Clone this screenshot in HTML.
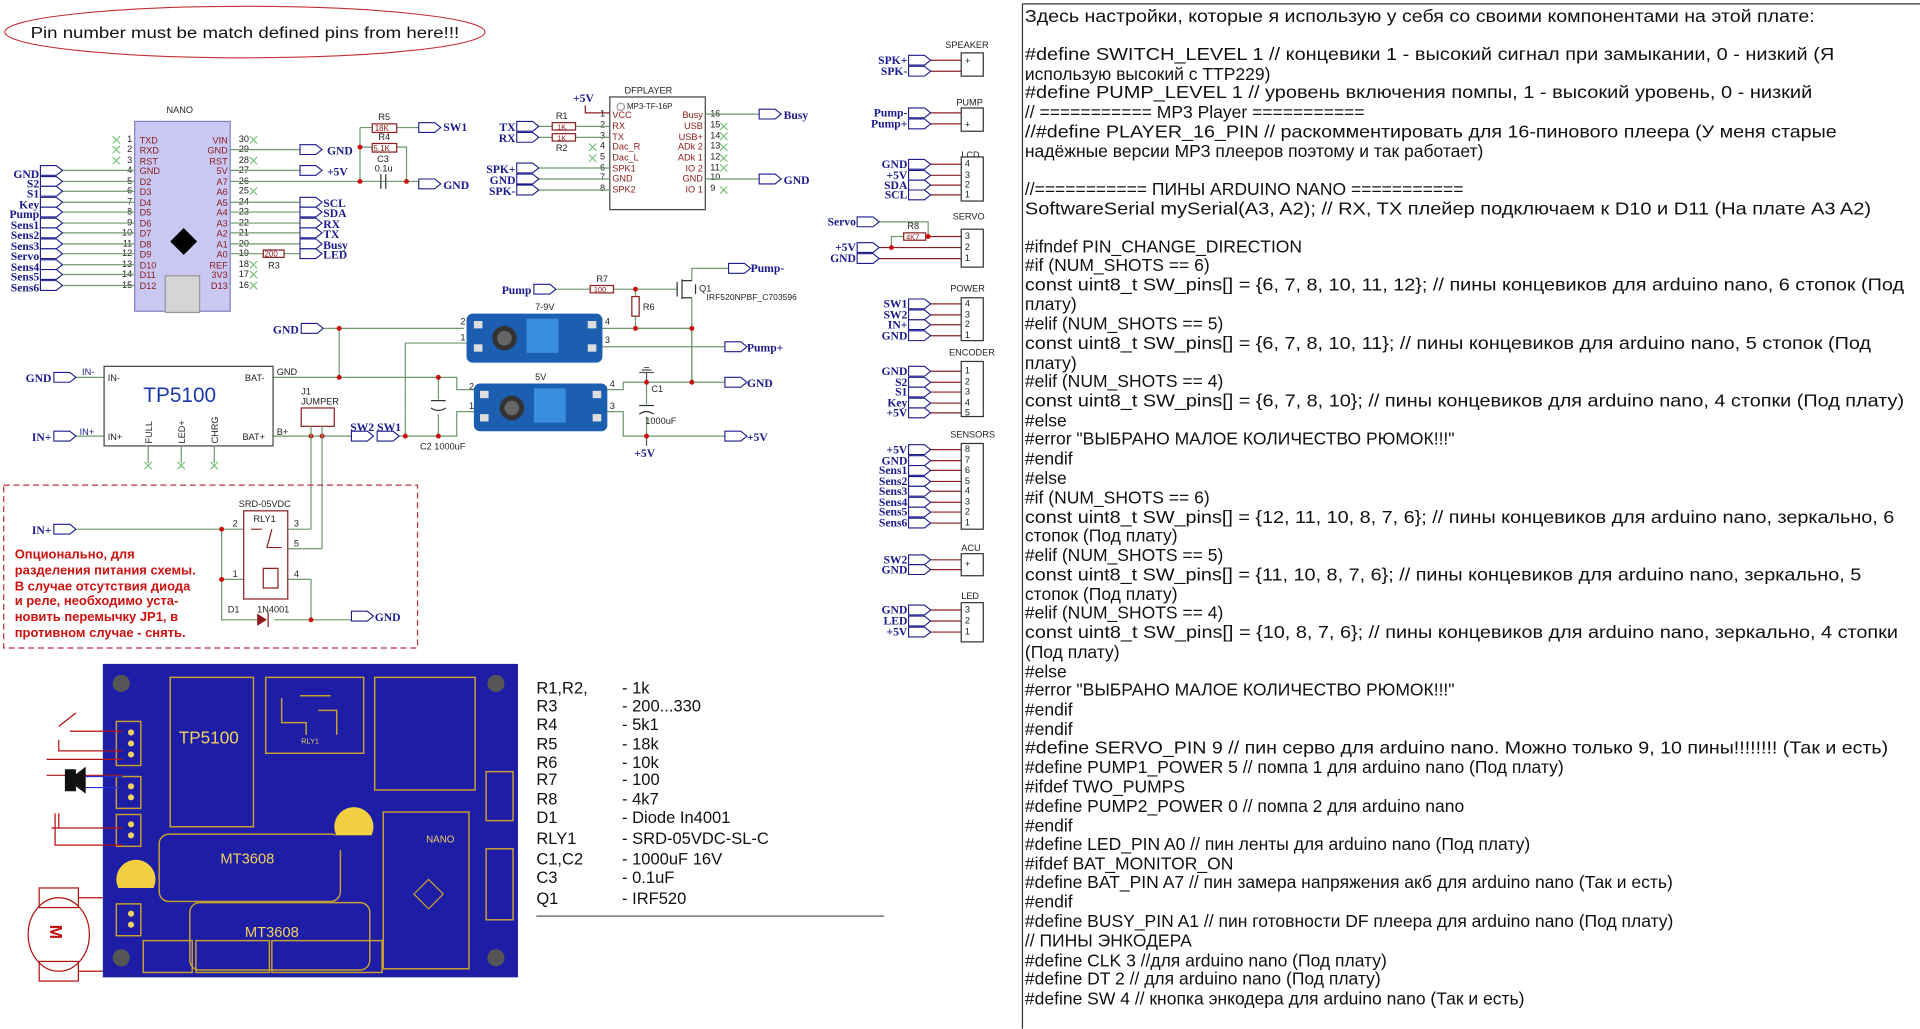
<!DOCTYPE html>
<html><head><meta charset="utf-8"><style>
html,body{margin:0;padding:0;background:#fff;width:1920px;height:1029px;overflow:hidden}
svg{display:block}
.t{font-family:"Liberation Sans",Arial,sans-serif;font-size:14.3px;fill:#111;white-space:pre}
.lb{font-family:"Liberation Serif",serif;font-size:9.5px;font-weight:bold;fill:#1a1a8a}
.pn{font-family:"Liberation Sans",sans-serif;font-size:7.5px;fill:#8b1a1a}
.sm{font-family:"Liberation Sans",sans-serif;font-size:7.5px;fill:#222}
.w{stroke:#6f9a6f;stroke-width:1;fill:none}
.r{stroke:#8b2020;stroke-width:1;fill:none}
.port{fill:#fff;stroke:#1a1a8a;stroke-width:0.9}
.dot{fill:#c81010}
.red{font-family:"Liberation Sans",sans-serif;font-size:10.6px;font-weight:bold;fill:#cc1111}
.bom{font-family:"Liberation Sans",sans-serif;font-size:13.5px;fill:#111}
</style></head><body>
<svg width="1920" height="1029" viewBox="0 0 1568 840" xmlns="http://www.w3.org/2000/svg" xml:space="preserve">
<defs>
<polygon id="p" class="port" points="0,-4 13,-4 18,0 13,4 0,4"/>
<g id="x"><path d="M-3,-3 L3,3 M-3,3 L3,-3" stroke="#6fbf6f" stroke-width="0.9"/></g>
</defs>

<line x1="835" y1="3" x2="1568" y2="3" stroke="#333" stroke-width="1"/>
<line x1="835" y1="3" x2="835" y2="840" stroke="#333" stroke-width="1"/>
<g class="t">
<text x="837" y="18" textLength="645" lengthAdjust="spacingAndGlyphs">Здесь настройки, которые я использую у себя со своими компонентами на этой плате:</text>
<text x="837" y="49" textLength="661" lengthAdjust="spacingAndGlyphs">#define SWITCH_LEVEL 1    // концевики 1 - высокий сигнал при замыкании, 0 - низкий (Я</text>
<text x="837" y="65">использую высокий с TTP229)</text>
<text x="837" y="80" textLength="643" lengthAdjust="spacingAndGlyphs">#define PUMP_LEVEL 1    // уровень включения помпы, 1 - высокий уровень, 0 - низкий</text>
<text x="837" y="96">// =========== MP3 Player ===========</text>
<text x="837" y="112" textLength="663" lengthAdjust="spacingAndGlyphs">//#define PLAYER_16_PIN  // раскомментировать для 16-пинового плеера (У меня старые</text>
<text x="837" y="128">надёжные версии MP3 плееров поэтому и так работает)</text>
<text x="837" y="159">//=========== ПИНЫ ARDUINO NANO ===========</text>
<text x="837" y="175" textLength="691" lengthAdjust="spacingAndGlyphs">SoftwareSerial mySerial(A3, A2); // RX, TX   плейер подключаем к D10 и  D11 (На плате A3 A2)</text>
<text x="837" y="206">#ifndef PIN_CHANGE_DIRECTION</text>
<text x="837" y="221">#if (NUM_SHOTS == 6)</text>
<text x="837" y="237" textLength="718" lengthAdjust="spacingAndGlyphs">const uint8_t SW_pins[] = {6, 7, 8, 10, 11, 12};  //  пины концевиков для arduino nano, 6 стопок (Под</text>
<text x="837" y="253">плату)</text>
<text x="837" y="269">#elif (NUM_SHOTS == 5)</text>
<text x="837" y="285" textLength="691" lengthAdjust="spacingAndGlyphs">const uint8_t SW_pins[] = {6, 7, 8, 10, 11};  //  пины концевиков для arduino nano, 5 стопок (Под</text>
<text x="837" y="301">плату)</text>
<text x="837" y="316">#elif (NUM_SHOTS == 4)</text>
<text x="837" y="332" textLength="718" lengthAdjust="spacingAndGlyphs">const uint8_t SW_pins[] = {6, 7, 8, 10};  //  пины концевиков для arduino nano, 4 стопки (Под плату)</text>
<text x="837" y="348">#else</text>
<text x="837" y="363">#error "ВЫБРАНО МАЛОЕ КОЛИЧЕСТВО РЮМОК!!!"</text>
<text x="837" y="379">#endif</text>
<text x="837" y="395">#else</text>
<text x="837" y="411">#if (NUM_SHOTS == 6)</text>
<text x="837" y="427" textLength="710" lengthAdjust="spacingAndGlyphs">const uint8_t SW_pins[] = {12, 11, 10, 8, 7, 6};  //  пины концевиков для arduino nano, зеркально, 6</text>
<text x="837" y="442">стопок (Под плату)</text>
<text x="837" y="458">#elif (NUM_SHOTS == 5)</text>
<text x="837" y="474" textLength="683" lengthAdjust="spacingAndGlyphs">const uint8_t SW_pins[] = {11, 10, 8, 7, 6};  //  пины концевиков для arduino nano, зеркально, 5</text>
<text x="837" y="490">стопок (Под плату)</text>
<text x="837" y="505">#elif (NUM_SHOTS == 4)</text>
<text x="837" y="521" textLength="713" lengthAdjust="spacingAndGlyphs">const uint8_t SW_pins[] = {10, 8, 7, 6};  //  пины концевиков для arduino nano, зеркально, 4 стопки</text>
<text x="837" y="537">(Под плату)</text>
<text x="837" y="553">#else</text>
<text x="837" y="568">#error "ВЫБРАНО МАЛОЕ КОЛИЧЕСТВО РЮМОК!!!"</text>
<text x="837" y="584">#endif</text>
<text x="837" y="600">#endif</text>
<text x="837" y="615" textLength="705" lengthAdjust="spacingAndGlyphs">#define SERVO_PIN   9 // пин серво для arduino nano. Можно только 9, 10 пины!!!!!!!! (Так и есть)</text>
<text x="837" y="631">#define PUMP1_POWER 5 // помпа 1 для arduino nano (Под плату)</text>
<text x="837" y="647">#ifdef TWO_PUMPS</text>
<text x="837" y="663">#define PUMP2_POWER 0 // помпа 2 для arduino nano</text>
<text x="837" y="679">#endif</text>
<text x="837" y="694">#define LED_PIN A0  // пин ленты для arduino nano (Под плату)</text>
<text x="837" y="710">#ifdef BAT_MONITOR_ON</text>
<text x="837" y="725">#define BAT_PIN A7 // пин замера напряжения акб для arduino nano (Так и есть)</text>
<text x="837" y="741">#endif</text>
<text x="837" y="757">#define BUSY_PIN A1  // пин готовности DF плеера для arduino nano (Под плату)</text>
<text x="837" y="773">// ПИНЫ ЭНКОДЕРА</text>
<text x="837" y="789">#define CLK  3 //для arduino nano (Под плату)</text>
<text x="837" y="804">#define DT  2 // для arduino nano (Под плату)</text>
<text x="837" y="820">#define SW  4  // кнопка энкодера для arduino nano (Так и есть)</text>
</g>

<ellipse cx="200" cy="26" rx="196" ry="21" fill="none" stroke="#c03030" stroke-width="0.9"/>
<text x="25" y="31" class="t" style="font-size:13px" textLength="350" lengthAdjust="spacingAndGlyphs">Pin number must be match defined pins from here!!!</text>

<text x="136" y="92" class="sm">NANO</text>
<rect x="110" y="99" width="78" height="155" fill="#c8c8f2" stroke="#8080c0"/>
<polygon points="150,186 161,197 150,208 139,197" fill="#000"/>
<rect x="135" y="225" width="28" height="30" fill="#d4d4d4" stroke="#999"/>
<g class="pn">
<text x="114" y="117">TXD</text><text x="114" y="125">RXD</text><text x="114" y="134">RST</text><text x="114" y="142">GND</text><text x="114" y="151">D2</text><text x="114" y="159">D3</text><text x="114" y="168">D4</text><text x="114" y="176">D5</text><text x="114" y="185">D6</text><text x="114" y="193">D7</text><text x="114" y="202">D8</text><text x="114" y="210">D9</text><text x="114" y="219">D10</text><text x="114" y="227">D11</text><text x="114" y="236">D12</text>
</g>
<g class="pn" text-anchor="end">
<text x="186" y="117">VIN</text><text x="186" y="125">GND</text><text x="186" y="134">RST</text><text x="186" y="142">5V</text><text x="186" y="151">A7</text><text x="186" y="159">A6</text><text x="186" y="168">A5</text><text x="186" y="176">A4</text><text x="186" y="185">A3</text><text x="186" y="193">A2</text><text x="186" y="202">A1</text><text x="186" y="210">A0</text><text x="186" y="219">REF</text><text x="186" y="227">3V3</text><text x="186" y="236">D13</text>
</g>
<g class="sm" text-anchor="end">
<text x="108" y="116">1</text><text x="108" y="124">2</text><text x="108" y="133">3</text><text x="108" y="141">4</text><text x="108" y="150">5</text><text x="108" y="158">6</text><text x="108" y="167">7</text><text x="108" y="175">8</text><text x="108" y="184">9</text><text x="108" y="192">10</text><text x="108" y="201">11</text><text x="108" y="209">12</text><text x="108" y="218">13</text><text x="108" y="226">14</text><text x="108" y="235">15</text>
</g>
<g class="sm">
<text x="195" y="116">30</text><text x="195" y="124">29</text><text x="195" y="133">28</text><text x="195" y="141">27</text><text x="195" y="150">26</text><text x="195" y="158">25</text><text x="195" y="167">24</text><text x="195" y="175">23</text><text x="195" y="184">22</text><text x="195" y="192">21</text><text x="195" y="201">20</text><text x="195" y="209">19</text><text x="195" y="218">18</text><text x="195" y="226">17</text><text x="195" y="235">16</text>
</g>
<g><use href="#x" x="95" y="114"/><use href="#x" x="95" y="122"/><use href="#x" x="95" y="131"/><use href="#x" x="207" y="114"/><use href="#x" x="207" y="131"/><use href="#x" x="207" y="156"/><use href="#x" x="207" y="216"/><use href="#x" x="207" y="224"/><use href="#x" x="207" y="233"/></g>
<g class="w">
<path d="M50,139H110M50,148H110M50,156H110M50,165H110M50,173H110M50,182H110M50,190H110M50,199H110M50,207H110M50,216H110M50,224H110M50,233H110"/>
</g>
<g><use href="#p" x="33" y="139"/><use href="#p" x="33" y="148"/><use href="#p" x="33" y="156"/><use href="#p" x="33" y="165"/><use href="#p" x="33" y="173"/><use href="#p" x="33" y="182"/><use href="#p" x="33" y="190"/><use href="#p" x="33" y="199"/><use href="#p" x="33" y="207"/><use href="#p" x="33" y="216"/><use href="#p" x="33" y="224"/><use href="#p" x="33" y="233"/></g>
<g class="lb" text-anchor="end">
<text x="32" y="145">GND</text><text x="32" y="153">S2</text><text x="32" y="161">S1</text><text x="32" y="170">Key</text><text x="32" y="178">Pump</text><text x="32" y="187">Sens1</text><text x="32" y="195">Sens2</text><text x="32" y="204">Sens3</text><text x="32" y="212">Servo</text><text x="32" y="221">Sens4</text><text x="32" y="229">Sens5</text><text x="32" y="238">Sens6</text>
</g>
<g class="w"><path d="M188,122H245M188,139H245M188,148H332M188,165H245M188,173H245M188,182H245M188,190H245M188,199H245M188,207H215M232,207H245"/>
<path d="M294,104V148M294,104H304M324,104H342M294,120H304M324,120H332V148M311,148H294M316,148H342"/></g>
<rect x="215" y="204" width="17" height="6" fill="#fff" stroke="#8b2020"/><text x="216" y="209.5" class="pn" style="font-size:6.5px">200</text>
<text x="219" y="219" class="sm">R3</text>
<rect x="304" y="101" width="20" height="7" fill="#fff" stroke="#8b2020"/><text x="306" y="107" class="pn" style="font-size:6.5px">18K</text><text x="309" y="98" class="sm">R5</text>
<rect x="304" y="117" width="20" height="7" fill="#fff" stroke="#8b2020"/><text x="305" y="123" class="pn" style="font-size:6.5px">5.1K</text><text x="309" y="114" class="sm">R4</text>
<path d="M311,142V154M315,142V154" stroke="#555" stroke-width="1.2"/><text x="308" y="132" class="sm">C3</text><text x="306" y="140" class="sm">0.1u</text>
<circle cx="294" cy="120" r="2" class="dot"/><circle cx="294" cy="148" r="2" class="dot"/><circle cx="332" cy="148" r="2" class="dot"/>
<g><use href="#p" x="245" y="122"/><use href="#p" x="245" y="139"/><use href="#p" x="245" y="165"/><use href="#p" x="245" y="173"/><use href="#p" x="245" y="182"/><use href="#p" x="245" y="190"/><use href="#p" x="245" y="199"/><use href="#p" x="245" y="207"/><use href="#p" x="342" y="104"/><use href="#p" x="342" y="150"/></g>
<g class="lb"><text x="267" y="126">GND</text><text x="267" y="143">+5V</text><text x="264" y="169">SCL</text><text x="264" y="177">SDA</text><text x="264" y="186">RX</text><text x="264" y="194">TX</text><text x="264" y="203">Busy</text><text x="264" y="211">LED</text><text x="362" y="107">SW1</text><text x="362" y="154">GND</text></g>

<text x="510" y="76" class="sm">DFPLAYER</text>
<rect x="498" y="79" width="78" height="92" fill="#fff" stroke="#444"/>
<circle cx="507" cy="87" r="3" fill="none" stroke="#999"/><text x="512" y="89" class="sm" style="font-size:6.5px">MP3-TF-16P</text>
<text x="468" y="83" class="lb">+5V</text><path d="M478,86V92H498" class="r"/>
<g class="pn"><text x="500" y="96">VCC</text><text x="500" y="105">RX</text><text x="500" y="114">TX</text><text x="500" y="122">Dac_R</text><text x="500" y="131">Dac_L</text><text x="500" y="140">SPK1</text><text x="500" y="148">GND</text><text x="500" y="157">SPK2</text></g>
<g class="pn" text-anchor="end"><text x="574" y="96">Busy</text><text x="574" y="105">USB</text><text x="574" y="114">USB+</text><text x="574" y="122">ADk 2</text><text x="574" y="131">ADk 1</text><text x="574" y="140">IO 2</text><text x="574" y="148">GND</text><text x="574" y="157">IO 1</text></g>
<g class="sm"><text x="490" y="95">1</text><text x="490" y="104">2</text><text x="490" y="113">3</text><text x="490" y="121">4</text><text x="490" y="130">5</text><text x="490" y="139">6</text><text x="490" y="147">7</text><text x="490" y="156">8</text>
<text x="580" y="95">16</text><text x="580" y="104">15</text><text x="580" y="113">14</text><text x="580" y="121">13</text><text x="580" y="130">12</text><text x="580" y="139">11</text><text x="580" y="147">10</text><text x="580" y="156">9</text></g>
<g><use href="#x" x="484" y="120"/><use href="#x" x="484" y="129"/><use href="#x" x="591" y="103"/><use href="#x" x="591" y="111"/><use href="#x" x="591" y="120"/><use href="#x" x="591" y="129"/><use href="#x" x="591" y="137"/><use href="#x" x="591" y="155"/></g>
<g class="w"><path d="M440,103H451M470,103H498M440,112H451M470,112H498M440,137H498M440,146H498M440,155H498M576,93H620M576,146H620"/></g>
<rect x="451" y="100" width="19" height="6" fill="#fff" stroke="#8b2020"/><text x="455" y="105.5" class="pn" style="font-size:6px">1K</text>
<rect x="451" y="109" width="19" height="6" fill="#fff" stroke="#8b2020"/><text x="455" y="114.5" class="pn" style="font-size:6px">1K</text>
<text x="454" y="97" class="sm">R1</text><text x="454" y="123" class="sm">R2</text>
<g><use href="#p" x="422" y="103"/><use href="#p" x="422" y="112"/><use href="#p" x="422" y="137"/><use href="#p" x="422" y="146"/><use href="#p" x="422" y="155"/><use href="#p" x="620" y="93"/><use href="#p" x="620" y="146"/></g>
<g class="lb" text-anchor="end"><text x="421" y="107">TX</text><text x="421" y="116">RX</text><text x="421" y="141">SPK+</text><text x="421" y="150">GND</text><text x="421" y="159">SPK-</text></g>
<g class="lb"><text x="640" y="97">Busy</text><text x="640" y="150">GND</text></g>

<use href="#p" x="436" y="236"/><text x="434" y="240" class="lb" text-anchor="end">Pump</text>
<g class="w"><path d="M454,236H482M501,236H553M519,236V242M519,258V268M565,229V219H595M565,243V312M519,268H565"/></g>
<rect x="482" y="233" width="19" height="6" fill="#fff" stroke="#8b2020"/><text x="485" y="238.5" class="pn" style="font-size:6px">100</text><text x="487" y="230" class="sm">R7</text>
<rect x="516" y="242" width="6" height="16" fill="#fff" stroke="#8b2020"/><text x="525" y="253" class="sm">R6</text>
<circle cx="519" cy="236" r="2" class="dot"/>
<path d="M553,230V242M557,228V244M557,229H565M557,243H565M568,232V240" stroke="#333" fill="none"/>
<text x="571" y="238" class="sm">Q1</text><text x="577" y="245" class="sm" style="font-size:7px">IRF520NPBF_C703596</text>
<use href="#p" x="595" y="219"/><text x="613" y="222" class="lb">Pump-</text>

<g class="w"><path d="M262,268H379M277,268V308M62,308H85M223,308H358M358,308H373V318H387M62,356H85M223,356H254M254,356H287M325,356H373V336H387M331,356V280H381M492,268H565M492,283H592M496,318H509V312H592M496,336H509V356H592M528,312V330M528,340V356M565,268V312"/></g>
<g class="w"><path d="M358,308V326M358,338V356"/></g>
<path d="M352,327H364M352,333Q358,337 364,333" stroke="#333" fill="none"/>
<path d="M522,331H534M522,338Q528,334 534,338" stroke="#333" fill="none"/>
<path d="M528,312V304M522,304H534M524,302H532M526,300H530" stroke="#555" fill="none"/>
<path d="M528,356V364" stroke="#555"/>
<circle cx="277" cy="268" r="2" class="dot"/><circle cx="277" cy="308" r="2" class="dot"/><circle cx="358" cy="308" r="2" class="dot"/><circle cx="358" cy="356" r="2" class="dot"/><circle cx="331" cy="356" r="2" class="dot"/><circle cx="254" cy="356" r="2" class="dot"/><circle cx="263" cy="356" r="2" class="dot"/><circle cx="519" cy="268" r="2" class="dot"/><circle cx="565" cy="268" r="2" class="dot"/><circle cx="565" cy="312" r="2" class="dot"/><circle cx="528" cy="312" r="2" class="dot"/><circle cx="528" cy="356" r="2" class="dot"/>
<g>
<rect x="381" y="256" width="111" height="40" rx="5" fill="#1c5fb0"/>
<rect x="430" y="260" width="26" height="28" fill="#3a8ee0"/><circle cx="412" cy="276" r="10" fill="#333"/><circle cx="412" cy="276" r="6" fill="#666"/>
<rect x="387" y="262" width="7" height="6" fill="#ddd"/><rect x="387" y="281" width="7" height="6" fill="#ddd"/><rect x="480" y="262" width="7" height="6" fill="#ddd"/><rect x="480" y="281" width="7" height="6" fill="#ddd"/>
<rect x="387" y="313" width="109" height="39" rx="5" fill="#1c5fb0"/>
<rect x="436" y="317" width="26" height="28" fill="#3a8ee0"/><circle cx="418" cy="333" r="10" fill="#333"/><circle cx="418" cy="333" r="6" fill="#666"/>
<rect x="392" y="319" width="7" height="6" fill="#ddd"/><rect x="392" y="338" width="7" height="6" fill="#ddd"/><rect x="484" y="319" width="7" height="6" fill="#ddd"/><rect x="484" y="338" width="7" height="6" fill="#ddd"/>
</g>
<text x="437" y="253" class="sm">7-9V</text><text x="437" y="310" class="sm">5V</text>
<text x="376" y="265" class="sm">2</text><text x="376" y="278" class="sm">1</text><text x="494" y="265" class="sm">4</text><text x="494" y="280" class="sm">3</text>
<text x="383" y="318" class="sm">2</text><text x="383" y="334" class="sm">1</text><text x="498" y="316" class="sm">4</text><text x="498" y="334" class="sm">3</text>
<text x="343" y="367" class="sm">C2 1000uF</text><text x="532" y="320" class="sm">C1</text><text x="527" y="346" class="sm">1000uF</text><text x="518" y="373" class="lb">+5V</text>
<rect x="85" y="299" width="138" height="65" fill="#fff" stroke="#444"/>
<text x="117" y="328" font-family="Liberation Sans,sans-serif" font-size="17" fill="#1a3aa8">TP5100</text>
<g class="sm"><text x="88" y="311">IN-</text><text x="88" y="359">IN+</text><text x="200" y="311">BAT-</text><text x="198" y="359">BAT+</text><text x="67" y="306" fill="#1a1a8a">IN-</text><text x="65" y="355" fill="#1a1a8a">IN+</text><text x="226" y="306">GND</text><text x="226" y="355">B+</text></g>
<g class="sm" font-size="6.5"><text transform="translate(124,362) rotate(-90)">FULL</text><text transform="translate(151,362) rotate(-90)">LED+</text><text transform="translate(178,362) rotate(-90)">CHRG</text></g>
<path d="M121,364V378M148,364V378M175,364V378" class="w"/>
<use href="#x" x="121" y="380"/><use href="#x" x="148" y="380"/><use href="#x" x="175" y="380"/>
<use href="#p" x="44" y="308"/><use href="#p" x="44" y="356"/>
<text x="42" y="312" class="lb" text-anchor="end">GND</text><text x="42" y="360" class="lb" text-anchor="end">IN+</text>
<use href="#p" x="246" y="268"/><text x="244" y="272" class="lb" text-anchor="end">GND</text>
<use href="#p" x="592" y="283"/><text x="610" y="287" class="lb">Pump+</text>
<use href="#p" x="592" y="312"/><text x="610" y="316" class="lb">GND</text>
<use href="#p" x="592" y="356"/><text x="610" y="360" class="lb">+5V</text>
<text x="246" y="322" class="sm">J1</text><text x="246" y="330" class="sm">JUMPER</text>
<rect x="246" y="333" width="27" height="15" fill="#fff" stroke="#8b2020"/>
<path d="M254,348V432M263,348V448" class="w"/>
<use href="#p" x="287" y="356"/><use href="#p" x="308" y="356"/>
<text x="286" y="352" class="lb">SW2</text><text x="308" y="352" class="lb">SW1</text>
<rect x="3" y="396" width="338" height="133" fill="none" stroke="#c03040" stroke-dasharray="5,3"/>
<use href="#p" x="44" y="432"/><text x="42" y="436" class="lb" text-anchor="end">IN+</text>
<g class="w"><path d="M62,432H199M181,432V506H210M224,506H254M235,432H254M235,448H263M181,473H199M235,473H254V506H287"/></g>
<rect x="199" y="417" width="36" height="72" fill="#fff" stroke="#8b2020"/>
<path d="M205,432H214M222,432L218,447H230M215,464H227V480H215Z" stroke="#8b2020" fill="none"/>
<polygon points="210,501 210,511 218,506" fill="#8b1a1a"/><path d="M219,500V512" stroke="#8b1a1a"/>
<circle cx="181" cy="432" r="2" class="dot"/><circle cx="181" cy="473" r="2" class="dot"/><circle cx="254" cy="506" r="2" class="dot"/>
<text x="195" y="414" class="sm">SRD-05VDC</text><text x="207" y="426" class="sm">RLY1</text>
<g class="sm"><text x="190" y="430">2</text><text x="240" y="430">3</text><text x="240" y="446">5</text><text x="190" y="471">1</text><text x="240" y="471">4</text><text x="186" y="500">D1</text><text x="210" y="500">1N4001</text></g>
<use href="#p" x="287" y="503"/><text x="306" y="507" class="lb">GND</text>
<g class="red"><text x="12" y="456">Опционально, для</text><text x="12" y="469">разделения питания схемы.</text><text x="12" y="482">В случае отсутствия диода</text><text x="12" y="494">и реле, необходимо уста-</text><text x="12" y="507">новить перемычку JP1, в</text><text x="12" y="520">противном случае - снять.</text></g>

<g class="sm" font-size="7"><text x="772" y="39">SPEAKER</text><text x="781" y="86">PUMP</text><text x="785" y="129">LCD</text><text x="778" y="179">SERVO</text><text x="776" y="238">POWER</text><text x="775" y="290">ENCODER</text><text x="776" y="357">SENSORS</text><text x="785" y="450">ACU</text><text x="785" y="489">LED</text></g>
<g fill="#fff" stroke="#333"><rect x="785" y="43" width="18" height="19"/><rect x="785" y="88" width="18" height="19"/><rect x="785" y="128" width="18" height="36"/><rect x="785" y="187" width="18" height="31"/><rect x="785" y="243" width="18" height="35"/><rect x="785" y="295" width="18" height="45"/><rect x="785" y="362" width="18" height="70"/><rect x="785" y="452" width="18" height="18"/><rect x="785" y="492" width="18" height="32"/></g>
<g class="r"><path d="M760,49H785M760,58H785M760,92H785M760,101H785M760,134H785M760,143H785M760,151H785M760,159H785M756,193H785M718,202H785M718,211H785M760,248H785M760,257H785M760,265H785M760,274H785M760,303H785M760,312H785M760,320H785M760,329H785M760,337H785M760,367H785M760,376H785M760,384H785M760,393H785M760,401H785M760,410H785M760,418H785M760,427H785M760,457H785M760,465H785M760,498H785M760,507H785M760,516H785"/></g>
<g class="w"><path d="M718,181H758V193M728,202V193H738"/></g>
<rect x="738" y="190" width="18" height="6" fill="#fff" stroke="#8b2020"/><text x="740" y="195.5" class="pn" style="font-size:6px">4K7</text><text x="741" y="187" class="sm">R8</text>
<circle cx="728" cy="202" r="2" class="dot"/><circle cx="758" cy="193" r="2" class="dot"/>
<g><use href="#p" x="742" y="49"/><use href="#p" x="742" y="58"/><use href="#p" x="742" y="92"/><use href="#p" x="742" y="101"/><use href="#p" x="742" y="134"/><use href="#p" x="742" y="143"/><use href="#p" x="742" y="151"/><use href="#p" x="742" y="159"/><use href="#p" x="700" y="181"/><use href="#p" x="700" y="202"/><use href="#p" x="700" y="211"/><use href="#p" x="742" y="248"/><use href="#p" x="742" y="257"/><use href="#p" x="742" y="265"/><use href="#p" x="742" y="274"/><use href="#p" x="742" y="303"/><use href="#p" x="742" y="312"/><use href="#p" x="742" y="320"/><use href="#p" x="742" y="329"/><use href="#p" x="742" y="337"/><use href="#p" x="742" y="367"/><use href="#p" x="742" y="376"/><use href="#p" x="742" y="384"/><use href="#p" x="742" y="393"/><use href="#p" x="742" y="401"/><use href="#p" x="742" y="410"/><use href="#p" x="742" y="418"/><use href="#p" x="742" y="427"/><use href="#p" x="742" y="457"/><use href="#p" x="742" y="465"/><use href="#p" x="742" y="498"/><use href="#p" x="742" y="507"/><use href="#p" x="742" y="516"/></g>
<g class="lb" text-anchor="end">
<text x="741" y="52">SPK+</text><text x="741" y="61">SPK-</text><text x="741" y="95">Pump-</text><text x="741" y="104">Pump+</text>
<text x="741" y="137">GND</text><text x="741" y="146">+5V</text><text x="741" y="154">SDA</text><text x="741" y="162">SCL</text>
<text x="699" y="184">Servo</text><text x="699" y="205">+5V</text><text x="699" y="214">GND</text>
<text x="741" y="251">SW1</text><text x="741" y="260">SW2</text><text x="741" y="268">IN+</text><text x="741" y="277">GND</text>
<text x="741" y="306">GND</text><text x="741" y="315">S2</text><text x="741" y="323">S1</text><text x="741" y="332">Key</text><text x="741" y="340">+5V</text>
<text x="741" y="370">+5V</text><text x="741" y="379">GND</text><text x="741" y="387">Sens1</text><text x="741" y="396">Sens2</text><text x="741" y="404">Sens3</text><text x="741" y="413">Sens4</text><text x="741" y="421">Sens5</text><text x="741" y="430">Sens6</text>
<text x="741" y="460">SW2</text><text x="741" y="468">GND</text>
<text x="741" y="501">GND</text><text x="741" y="510">LED</text><text x="741" y="519">+5V</text>
</g>
<g class="sm" font-size="7">
<text x="788" y="52">+</text><text x="788" y="104">+</text><text x="788" y="463">+</text>
<text x="788" y="136">4</text><text x="788" y="145">3</text><text x="788" y="153">2</text><text x="788" y="161">1</text>
<text x="788" y="195">3</text><text x="788" y="204">2</text><text x="788" y="213">1</text>
<text x="788" y="250">4</text><text x="788" y="259">3</text><text x="788" y="267">2</text><text x="788" y="276">1</text>
<text x="788" y="305">1</text><text x="788" y="314">2</text><text x="788" y="322">3</text><text x="788" y="331">4</text><text x="788" y="339">5</text>
<text x="788" y="369">8</text><text x="788" y="378">7</text><text x="788" y="386">6</text><text x="788" y="395">5</text><text x="788" y="403">4</text><text x="788" y="412">3</text><text x="788" y="420">2</text><text x="788" y="429">1</text>
<text x="788" y="500">3</text><text x="788" y="509">2</text><text x="788" y="518">1</text>
</g>

<rect x="84" y="542" width="339" height="256" fill="#1d1da6"/>
<g fill="none" stroke="#c8a030" stroke-width="1.2">
<rect x="139" y="553" width="68" height="122"/><rect x="217" y="553" width="80" height="62"/><rect x="306" y="553" width="82" height="92"/>
<rect x="130" y="681" width="148" height="55" rx="8"/><rect x="155" y="737" width="147" height="55" rx="8"/>
<rect x="313" y="663" width="70" height="128"/><rect x="95" y="589" width="20" height="36"/><rect x="95" y="634" width="20" height="26"/><rect x="95" y="665" width="20" height="26"/><rect x="95" y="738" width="20" height="26"/>
<rect x="117" y="768" width="40" height="26"/><rect x="160" y="768" width="60" height="26"/><rect x="222" y="768" width="90" height="26"/><rect x="397" y="630" width="22" height="40"/><rect x="397" y="693" width="22" height="58"/>
<path d="M230,570V590H250V600M260,580H275V600M245,568H270"/>
</g>
<g fill="#555"><circle cx="99" cy="558" r="7"/><circle cx="405" cy="558" r="7"/><circle cx="99" cy="782" r="7"/><circle cx="405" cy="782" r="7"/></g>
<g fill="#f0d040"><circle cx="289" cy="675" r="16"/><circle cx="111" cy="718" r="16"/></g>
<g fill="#1d1da6"><rect x="272" y="682" width="34" height="12"/><rect x="94" y="725" width="34" height="12"/></g>
<text x="146" y="607" font-family="Liberation Sans,sans-serif" font-size="14" fill="#f0d060">TP5100</text>
<text x="180" y="705" font-family="Liberation Sans,sans-serif" font-size="12" fill="#f0d060">MT3608</text>
<text x="200" y="765" font-family="Liberation Sans,sans-serif" font-size="12" fill="#f0d060">MT3608</text>
<text x="348" y="688" font-family="Liberation Sans,sans-serif" font-size="8" fill="#f0d060">NANO</text>
<text x="246" y="607" font-family="Liberation Sans,sans-serif" font-size="6" fill="#f0d060">RLY1</text>
<polygon points="350,718 362,730 350,742 338,730" fill="none" stroke="#c8a030"/>
<g fill="#f0d060"><circle cx="107" cy="598" r="2.5"/><circle cx="107" cy="607" r="2.5"/><circle cx="107" cy="616" r="2.5"/><circle cx="107" cy="642" r="2.5"/><circle cx="107" cy="651" r="2.5"/><circle cx="107" cy="673" r="2.5"/><circle cx="107" cy="682" r="2.5"/><circle cx="107" cy="746" r="2.5"/><circle cx="107" cy="755" r="2.5"/></g>
<g stroke="#b01010" fill="none"><path d="M48,593L62,582M57,597H100M48,604V613H100M38,620H100M38,633H100M42,676H48M48,664V676H100M45,664V690H100"/>
<rect x="32" y="725" width="32" height="16"/><rect x="32" y="785" width="32" height="16"/><ellipse cx="48" cy="763" rx="25" ry="30"/><path d="M64,733H84M64,793H84"/></g>
<text x="38" y="768" font-family="Liberation Sans,sans-serif" font-size="14" font-weight="bold" fill="#c01010" transform="rotate(90 46 763)">M</text>
<polygon points="53,628 62,628 62,632 70,626 70,648 62,642 62,646 53,646" fill="#111"/>
<path d="M70,634H100M70,643H100" stroke="#2030d0"/>

<g class="bom">
<text x="438" y="566">R1,R2,</text><text x="508" y="566">- 1k</text>
<text x="438" y="581">R3</text><text x="508" y="581">- 200...330</text>
<text x="438" y="596">R4</text><text x="508" y="596">- 5k1</text>
<text x="438" y="612">R5</text><text x="508" y="612">- 18k</text>
<text x="438" y="627">R6</text><text x="508" y="627">- 10k</text>
<text x="438" y="641">R7</text><text x="508" y="641">- 100</text>
<text x="438" y="657">R8</text><text x="508" y="657">- 4k7</text>
<text x="438" y="672">D1</text><text x="508" y="672">- Diode In4001</text>
<text x="438" y="689">RLY1</text><text x="508" y="689">- SRD-05VDC-SL-C</text>
<text x="438" y="706">C1,C2</text><text x="508" y="706">- 1000uF 16V</text>
<text x="438" y="721">C3</text><text x="508" y="721">- 0.1uF</text>
<text x="438" y="738">Q1</text><text x="508" y="738">- IRF520</text>
</g>
<line x1="438" y1="748" x2="722" y2="748" stroke="#777" stroke-width="1.2"/>
</svg>
</body></html>
